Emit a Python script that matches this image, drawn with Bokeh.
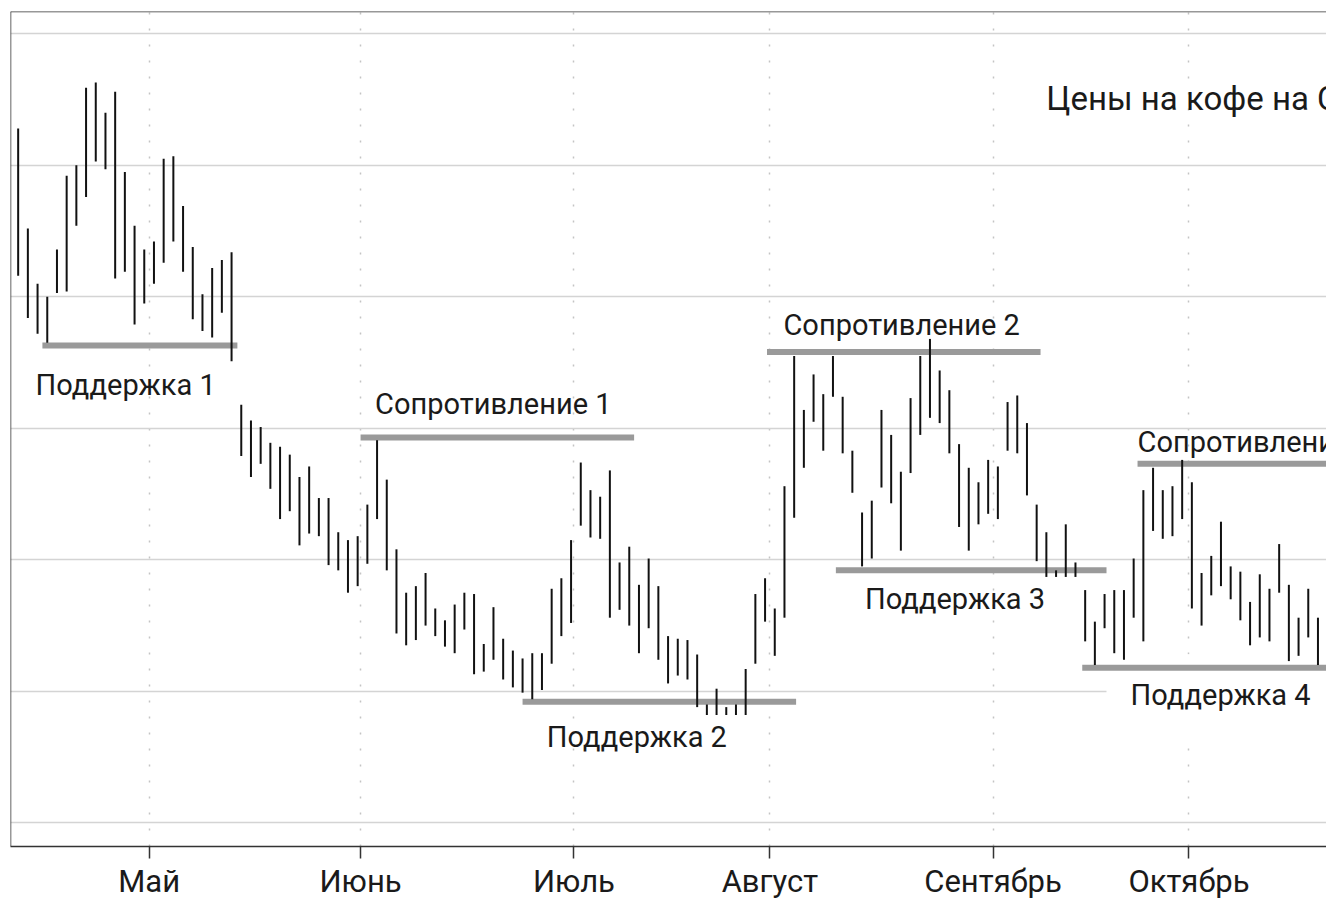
from bokeh.plotting import figure
from bokeh.models import FixedTicker, Span, Range1d
from bokeh.core.properties import value
from bokeh.embed import file_html
from bokeh.resources import INLINE

# Daily high / low prices (trading-day index)
highs = [152.8, 145.2, 141.0, 140.0, 143.6, 149.2, 150.0, 155.9, 156.3, 154.0,
         155.6, 149.5, 145.4, 143.6, 144.2, 150.5, 150.7, 146.9, 143.8, 140.2,
         142.2, 142.8, 143.4, 131.8, 130.6, 130.1, 128.9, 128.6, 128.0, 126.3,
         127.1, 124.7, 124.7, 122.1, 121.5, 121.8, 124.2, 129.1, 126.1, 120.8,
         117.5, 118.0, 119.0, 116.3, 115.4, 116.6, 117.5, 117.4, 113.6, 116.4,
         114.0, 113.1, 112.5, 112.9, 112.9, 117.8, 118.6, 121.5, 127.4, 125.3,
         124.8, 126.8, 119.8, 121.0, 118.1, 120.1, 118.0, 114.2, 114.0, 113.9,
         112.8, 109.0, 110.2, 108.8, 109.0, 111.7, 117.4, 118.6, 116.3, 125.6,
         135.5, 131.4, 134.1, 132.6, 135.5, 132.4, 128.3, 123.6, 124.5, 131.4,
         129.5, 126.7, 132.3, 135.5, 136.8, 134.4, 132.9, 128.8, 127.0, 125.9,
         127.6, 127.1, 132.0, 132.5, 130.4, 124.2, 122.1, 119.2, 122.7, 119.8,
         117.7, 115.3, 117.4, 117.7, 117.7, 120.1, 125.3, 127.0, 125.3, 125.6,
         127.6, 125.9, 119.0, 120.3, 122.9, 119.5, 119.1, 116.8, 118.9, 117.8,
         121.2, 118.1, 115.6, 117.8, 115.6]
lows = [141.6, 138.4, 137.2, 136.5, 140.3, 140.4, 145.4, 147.6, 150.3, 149.7,
        141.4, 141.9, 137.9, 139.5, 141.0, 142.6, 144.2, 141.9, 138.3, 137.4,
        136.9, 138.8, 135.1, 127.9, 126.3, 127.3, 125.4, 123.1, 123.7, 121.1,
        122.0, 121.8, 119.6, 119.2, 117.5, 118.0, 119.7, 123.1, 119.2, 114.4,
        113.5, 113.9, 115.0, 114.2, 113.4, 112.9, 114.7, 111.3, 111.5, 112.4,
        110.9, 110.3, 109.9, 109.4, 110.1, 112.1, 114.2, 115.2, 122.6, 121.7,
        121.6, 115.6, 116.2, 115.0, 112.9, 114.8, 112.4, 110.6, 111.2, 110.9,
        108.8, 108.2, 108.2, 108.2, 108.2, 108.2, 112.1, 115.3, 112.7, 115.6,
        123.2, 127.0, 130.5, 128.3, 132.4, 128.1, 125.1, 119.5, 120.1, 125.5,
        124.3, 120.7, 126.6, 129.5, 130.8, 130.4, 128.1, 122.5, 120.7, 122.7,
        123.5, 123.1, 128.3, 128.1, 124.9, 119.9, 118.7, 118.7, 118.7, 118.7,
        113.8, 112.0, 114.8, 112.9, 112.4, 115.6, 113.8, 122.2, 121.6, 121.8,
        123.1, 116.3, 115.0, 117.3, 118.0, 117.0, 115.4, 113.5, 114.1, 113.8,
        117.5, 112.3, 112.7, 114.1, 112.0]
days = list(range(len(highs)))

# Month ticks
month_labels = ["Май", "Июнь", "Июль", "Август", "Сентябрь", "Октябрь"]
month_pos = [13.5, 35.3, 57.3, 77.5, 100.5, 120.7]

# Support / resistance levels
level_y = [136.3, 129.3, 109.2, 135.8, 119.2, 111.8, 127.3]
level_x0 = [2.5, 35.3, 52.0, 77.2, 84.3, 109.7, 115.4]
level_x1 = [22.6, 63.5, 80.2, 105.4, 112.2, 140.0, 140.0]

# Text annotations (left edge, baseline)
label_text = ["Поддержка 1", "Сопротивление 1", "Поддержка 2", "Сопротивление 2",
              "Поддержка 3", "Сопротивление 3"]
label_x = [1.8, 36.8, 54.5, 78.9, 87.3, 115.4]
label_y = [133.3, 131.85, 106.5, 137.85, 117.0, 128.95]
boxed_text = ["Поддержка 4"]
boxed_x = [112.2]
boxed_y = [109.7]
title_text = ["Цены на кофе на С"]
title_x = [106.0]
title_y = [155.1]

grid_y = [100, 110, 120, 130, 140, 150, 160]

p = figure(frame_width=1316, frame_height=835, output_backend="svg", toolbar_location=None,
           x_range=Range1d(-0.79, 134.88), y_range=Range1d(98.2, 161.7),
           min_border_left=10, min_border_right=0, min_border_top=11, min_border_bottom=53)
p.outline_line_color = None
p.background_fill_color = "white"
p.border_fill_color = "white"

p.yaxis.visible = False
p.ygrid.ticker = FixedTicker(ticks=grid_y)
p.ygrid.grid_line_color = "#d4d4d4"
p.ygrid.grid_line_width = 1.5

p.xaxis.ticker = FixedTicker(ticks=month_pos)
p.xaxis.major_label_overrides = {pos: lab for pos, lab in zip(month_pos, month_labels)}
p.xaxis.axis_line_color = "#333333"
p.xaxis.axis_line_width = 1.5
p.xaxis.major_tick_line_color = "#333333"
p.xaxis.major_tick_line_width = 1.5
p.xaxis.major_tick_in = 0
p.xaxis.major_tick_out = 12
p.xaxis.minor_tick_line_color = None
p.xaxis.major_label_standoff = 4
p.xaxis.major_label_text_font = "Roboto"
p.xaxis.major_label_text_font_size = "31px"
p.xaxis.major_label_text_color = "#1a1a1a"

p.xgrid.grid_line_color = "#c4c4c4"
p.xgrid.grid_line_width = 1.5
p.xgrid.grid_line_dash = "2 14"

# boxed label drawn first so that bars and lines overlay its white box
p.text(x=boxed_x, y=boxed_y, text=boxed_text, text_font=value("Roboto"),
       text_font_size="29px", text_baseline="alphabetic", text_align="left",
       text_color="#1a1a1a", background_fill_color="white", padding=24)

p.segment(x0=level_x0, y0=level_y, x1=level_x1, y1=level_y,
          line_color="#9a9a9a", line_width=6)
p.segment(x0=days, y0=lows, x1=days, y1=highs, line_color="#111111", line_width=2)

p.text(x=label_x, y=label_y, text=label_text, text_font=value("Roboto"),
       text_font_size="29px", text_baseline="alphabetic", text_align="left",
       text_color="#1a1a1a")
p.text(x=title_x, y=title_y, text=title_text, text_font=value("Roboto"),
       text_font_size="33px", text_baseline="alphabetic", text_align="left",
       text_color="#1a1a1a")

p.add_layout(Span(location=p.x_range.start, dimension="height",
                  line_color="#333333", line_width=1.5))
p.add_layout(Span(location=p.y_range.end, dimension="width",
                  line_color="#333333", line_width=1.5))

open("out.html", "w").write(file_html(p, INLINE))
